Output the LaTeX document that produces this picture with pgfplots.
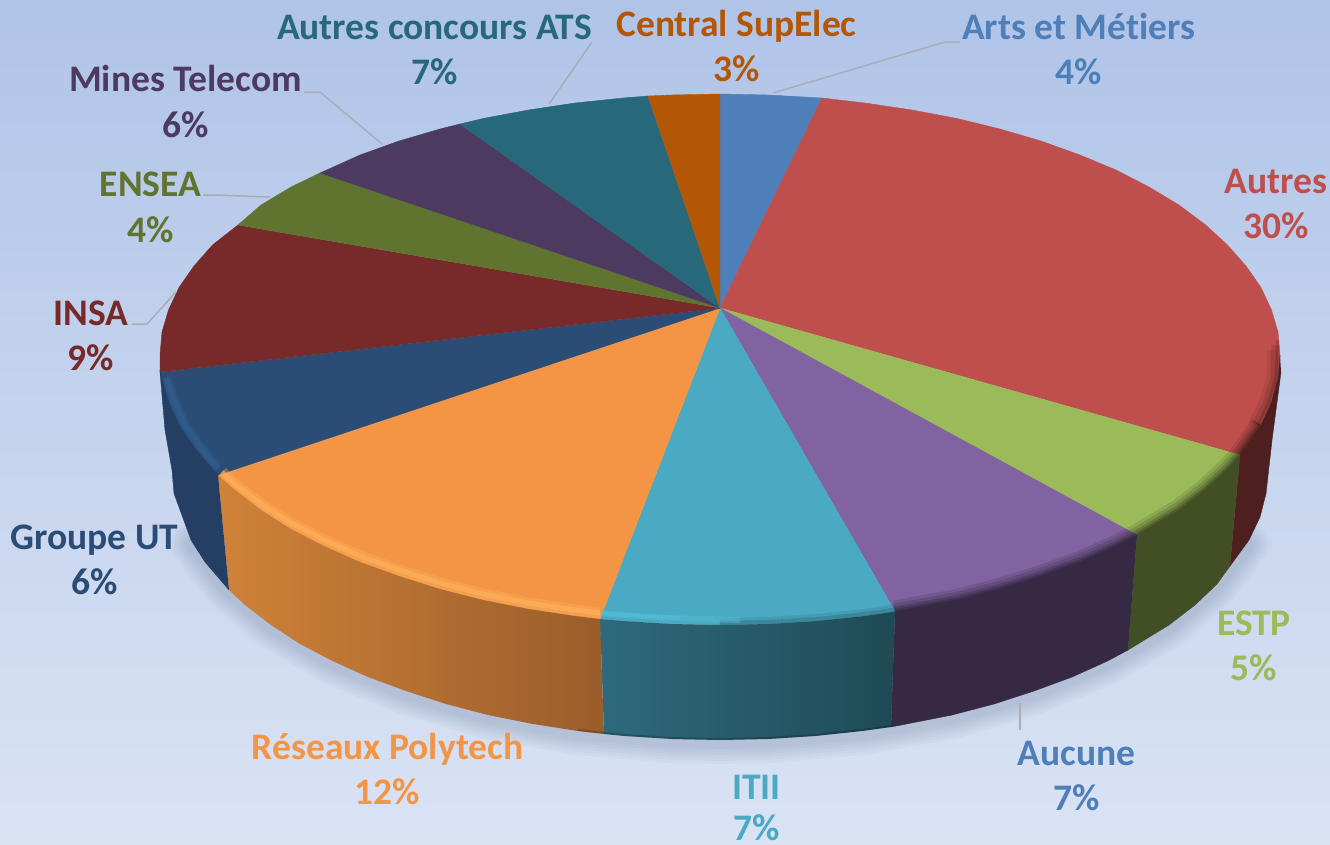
\documentclass[border=0pt]{standalone}
\usepackage{pgfplots}
\pgfplotsset{compat=1.18}
\usepackage{fontspec}
\setmainfont[Ligatures=NoCommon]{Carlito}
\definecolor{cBgTop}{HTML}{B0C4E8}
\definecolor{cBgBot}{HTML}{DAE3F4}
\definecolor{cArts}{HTML}{4E7FB9}
\definecolor{cAutres}{HTML}{BF4F4C}
\definecolor{cESTP}{HTML}{9BBA59}
\definecolor{cAucune}{HTML}{8063A0}
\definecolor{cITII}{HTML}{4AA9C3}
\definecolor{cRes}{HTML}{F49545}
\definecolor{cGroupe}{HTML}{2A4C75}
\definecolor{cINSA}{HTML}{772A29}
\definecolor{cENSEA}{HTML}{60732F}
\definecolor{cMines}{HTML}{4D3A60}
\definecolor{cATS}{HTML}{27697B}
\definecolor{cCentral}{HTML}{B35706}
\definecolor{cLead}{HTML}{A9ADB5}
\definecolor{cShadow}{HTML}{5A6A88}
\definecolor{cAutresS}{HTML}{4D1F1F}
\definecolor{cESTPS}{HTML}{424E23}
\definecolor{cAucuneS}{HTML}{352943}
\definecolor{cITIIa}{HTML}{2E6A7C}
\definecolor{cITIIb}{HTML}{1F4A56}
\definecolor{cResa}{HTML}{D08238}
\definecolor{cResb}{HTML}{9A5D2B}
\definecolor{cGroupeS}{HTML}{243F63}
\definecolor{cResHi}{HTML}{FFB25C}
\definecolor{cITIIHi}{HTML}{58BFDB}
\definecolor{cGroupeHi}{HTML}{33618F}
\newcommand\shadowarc[1]{\addplot[no marks,draw=cShadow,opacity=.045,line width=#1,line cap=round,line join=round] coordinates {(1249,544)(1217,588)(1169,629)(1107.5,665)(1034,695)(952,719)(862,735)(768,743)(720,744)(672,743)(578,735)(488,719)(406,695)(332.5,665)(271,629)(223,588)(191,544)};}
\newcommand\darkarc[2]{\addplot[no marks,draw=black,opacity=#2,line width=#1,line join=round] coordinates {(1261,425)(1240,455)(1227.5,469)(1205,490)(1179,510)(1137,535)(1116,546)(1080,562)(1041,576)(1000,589)(957,600)(895,611.5)};}
\newcommand\darkarcB[2]{\addplot[no marks,draw=black,opacity=#2,line width=#1,line join=round] coordinates {(895,611.5)(865,616)(817,621)(769,624)(720,625)};}
\tikzset{lb/.style={anchor=base,font=\fontsize{37.5}{42}\selectfont\bfseries}}
\begin{document}
\begin{tikzpicture}
\useasboundingbox (0,0) rectangle (1330pt,844pt);
\clip (0,0) rectangle (1330pt,844pt);
\path[top color=cBgTop,bottom color=cBgBot] (0,0) rectangle (1330pt,844pt);
\begin{axis}[
  scale only axis,width=1330pt,height=844pt,
  xmin=0,xmax=1330,ymin=0,ymax=844,y dir=reverse,
  hide axis,clip=false,
  every axis plot/.append style={no marks,sharp plot}]
% shadow
\shadowarc{40}\shadowarc{34}\shadowarc{28}\shadowarc{22}\shadowarc{16}\shadowarc{10}
% top faces
\addplot[fill=cArts,draw=cArts,line width=.4] coordinates {(720,308)(720,94)(769,95)(822,98)};
\addplot[fill=cAutres,draw=cAutres,line width=.4] coordinates {(720,308)(822,98)(865,103)(912,110)(957,118.5)(1000,129)(1041,141)(1080,155)(1116,170)(1149,187)(1179,205)(1205,224.5)(1227.5,245)(1246,266)(1261,287.5)(1271.5,310)(1278,332)(1280,355)(1278,378.5)(1271.5,402)(1261,425)(1240,455)};
\addplot[fill=cESTP,draw=cESTP,line width=.4] coordinates {(720,308)(1240,455)(1227.5,469)(1205,490)(1179,510)(1137,535)};
\addplot[fill=cAucune,draw=cAucune,line width=.4] coordinates {(720,308)(1137,535)(1116,546)(1080,562)(1041,576)(1000,589)(957,600)(895,611.5)};
\addplot[fill=cITII,draw=cITII,line width=.4] coordinates {(720,308)(895,611.5)(865,616)(817,621)(769,624)(720,625)(671,624)(623,621)(600,619)};
\addplot[fill=cRes,draw=cRes,line width=.4] coordinates {(720,308)(600,619)(575,616)(528.5,609)(483,600)(440,589)(399,576)(360,562)(324,546)(291,529)(261,510)(235,490)(218,475)};
\addplot[fill=cGroupe,draw=cGroupe,line width=.4] coordinates {(720,308)(218,475)(212.5,469)(194,447)(179,425)(168.5,402)(162,378.5)(160,372)};
\addplot[fill=cINSA,draw=cINSA,line width=.4] coordinates {(720,308)(160,372)(160,355)(162,332)(168.5,310)(179,287.5)(194,266)(212.5,245)(238,225)};
\addplot[fill=cENSEA,draw=cENSEA,line width=.4] coordinates {(720,308)(238,225)(261,205)(291,187)(320,173)};
\addplot[fill=cMines,draw=cMines,line width=.4] coordinates {(720,308)(320,173)(360,155)(399,141)(440,129)(460,124)};
\addplot[fill=cATS,draw=cATS,line width=.4] coordinates {(720,308)(460,124)(483,118.5)(528.5,110)(575,103)(623,98)(648,96)};
\addplot[fill=cCentral,draw=cCentral,line width=.4] coordinates {(720,308)(648,96)(671,95)(720,94)};
% bevel: dark on the right, highlight on the left
\darkarc{22}{.10}\darkarc{16}{.12}\darkarc{10}{.16}\darkarc{5}{.2}
\addplot[draw=black,opacity=.08,line width=11,line join=round] coordinates {(1273,350)(1272,378)(1265,401)(1254,424)};
\addplot[draw=black,opacity=.1,line width=7,line join=round] coordinates {(1275,345)(1274,378)(1267,401)(1256,424)};
\addplot[draw=black,opacity=.14,line width=3.5,line join=round] coordinates {(1277.5,340)(1277.5,355)(1276,378)(1269.5,401)(1259,424)};
\darkarcB{14}{.08}\darkarcB{8}{.12}
\addplot[draw=cResHi,opacity=.35,line width=11,line join=round] coordinates {(600,613)(575,610)(528.5,603)(483,594)(440,583)(399,570)(360,556)(324,540)(291,523)(261,504)(235,484)(222,472)};
\addplot[draw=cResHi,opacity=.6,line width=5,line join=round] coordinates {(600,613)(575,610)(528.5,603)(483,594)(440,583)(399,570)(360,556)(324,540)(291,523)(261,504)(235,484)(222,472)};
\addplot[draw=cITIIHi,opacity=.4,line width=6,line join=round] coordinates {(601,613)(623,615)(671,618)(740,620)};
\addplot[draw=cITIIHi,opacity=.5,line width=4,line join=round] coordinates {(601,613)(623,615)(680,618)};
\addplot[draw=cGroupeHi,opacity=.4,line width=10,line join=round] coordinates {(218,468)(199,445)(184,423)(174,400)(166,378)};
\addplot[draw=cGroupeHi,opacity=.6,line width=5,line join=round] coordinates {(218,468)(199,445)(184,423)(174,400)(166,378)};
% side faces
\addplot[fill=cAutresS,draw=cAutresS,line width=.4] coordinates {(1280,355)(1278,378.5)(1271.5,402)(1261,425)(1240,455)(1230,566)(1249,540)(1260,517)(1266,493.5)(1272,440)(1281,372)};
\addplot[fill=cESTPS,draw=cESTPS,line width=.4] coordinates {(1240,455)(1227.5,469)(1205,490)(1179,510)(1137,535)(1128,650)(1169,625)(1195,605)(1217,584)(1230,566)};
\addplot[fill=cAucuneS,draw=cAucuneS,line width=.4] coordinates {(1137,535)(1116,546)(1080,562)(1041,576)(1000,589)(957,600)(895,611.5)(891,727)(952,715)(994,704)(1034,691)(1072,677)(1107.5,661)(1128,650)};
\addplot[left color=cITIIa,right color=cITIIb,draw=none] coordinates {(895,611.5)(865,616)(817,621)(769,624)(720,625)(671,624)(623,621)(600,619)(604,734)(625,736)(672,739)(720,740)(768,739)(815,736)(862,731)(891,727)};
\addplot[left color=cResa,right color=cResb,draw=none] coordinates {(600,619)(575,616)(528.5,609)(483,600)(440,589)(399,576)(360,562)(324,546)(291,529)(261,510)(235,490)(218,475)(229,590)(245,605)(271,625)(300,644)(332.5,661)(368,677)(406,691)(446,704)(488,715)(533,724)(578,731)(604,734)};
\addplot[fill=cGroupeS,draw=cGroupeS,line width=.4] coordinates {(218,475)(212.5,469)(194,447)(179,425)(168.5,402)(162,378.5)(160,372)(165,430)(172,470)(174,493.5)(191,540)(205,562)(229,590)};
% dark rim along the lower edge
\addplot[draw=black,opacity=.2,line width=2] coordinates {(578,730)(625,735)(672,738)(720,739)(768,738)(815,735)(862,730)(891,726)};
% leader lines
\addplot[draw=cLead,line width=1.5] coordinates {(773,93)(945,42)(960,42)};
\addplot[draw=cLead,line width=1.5] coordinates {(549,104)(592,42)};
\addplot[draw=cLead,line width=1.5] coordinates {(382,144)(320,92)(304,92)};
\addplot[draw=cLead,line width=1.5] coordinates {(270,197)(215,195)(203,195)};
\addplot[draw=cLead,line width=1.5] coordinates {(176,292)(147,324)(132,324)};
\addplot[draw=cLead,line width=1.5] coordinates {(1020,703)(1020,730)};
% labels
\node[lb,text=cArts] at (axis cs:1078.5,39) {Arts et Métiers};
\node[lb,text=cArts] at (axis cs:1078.5,84) {4\%};
\node[lb,text=cAutres] at (axis cs:1276,193) {Autres};
\node[lb,text=cAutres] at (axis cs:1276,238) {30\%};
\node[lb,text=cESTP] at (axis cs:1254,635) {ESTP};
\node[lb,text=cESTP] at (axis cs:1254,680) {5\%};
\node[lb,text=cArts] at (axis cs:1076.5,765) {Aucune};
\node[lb,text=cArts] at (axis cs:1076.5,810) {7\%};
\node[lb,text=cITII] at (axis cs:756.5,799) {ITII};
\node[lb,text=cITII] at (axis cs:756.5,840) {7\%};
\node[lb,text=cRes] at (axis cs:387.5,759) {Réseaux Polytech};
\node[lb,text=cRes] at (axis cs:387.5,804) {12\%};
\node[lb,text=cGroupe] at (axis cs:94.5,549) {Groupe UT};
\node[lb,text=cGroupe] at (axis cs:94.5,594) {6\%};
\node[lb,text=cINSA] at (axis cs:91,325) {INSA};
\node[lb,text=cINSA] at (axis cs:91,370) {9\%};
\node[lb,text=cENSEA] at (axis cs:150.5,196) {ENSEA};
\node[lb,text=cENSEA] at (axis cs:150.5,242) {4\%};
\node[lb,text=cMines] at (axis cs:185.5,91) {Mines Telecom};
\node[lb,text=cMines] at (axis cs:185.5,137) {6\%};
\node[lb,text=cATS] at (axis cs:434.5,39) {Autres concours ATS};
\node[lb,text=cATS] at (axis cs:434.5,84) {7\%};
\node[lb,text=cCentral] at (axis cs:736.5,36) {Central SupElec};
\node[lb,text=cCentral] at (axis cs:736.5,81) {3\%};
\end{axis}
\end{tikzpicture}
\end{document}
